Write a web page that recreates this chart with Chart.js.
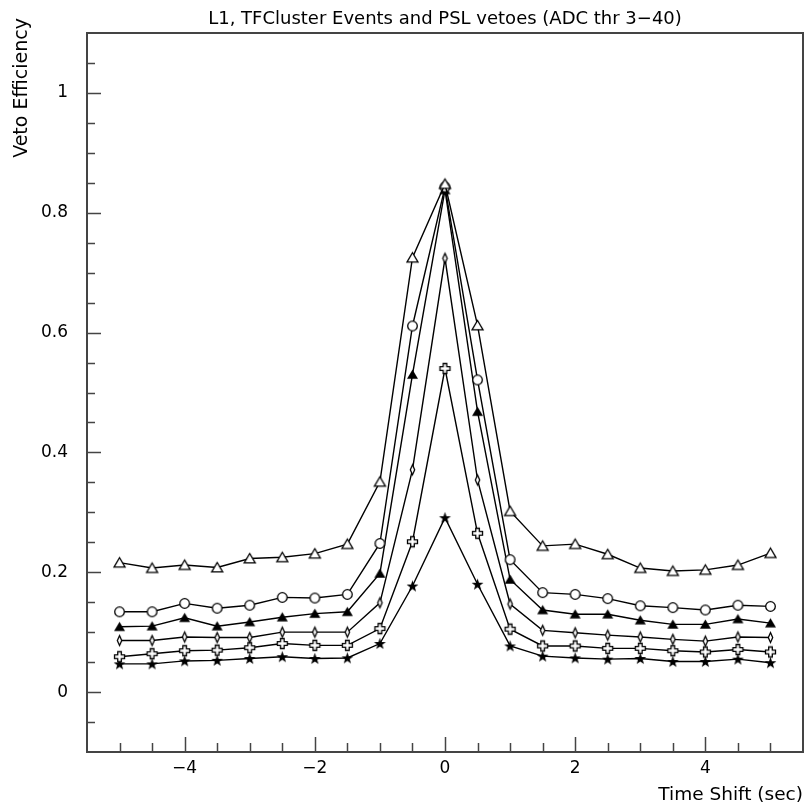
<!DOCTYPE html>
<html>
<head>
<meta charset="utf-8">
<script src="https://cdn.jsdelivr.net/npm/chart.js@4.4.1/dist/chart.umd.min.js"></script>
<style>
  html, body { margin: 0; padding: 0; background: #fff; }
  #wrap { width: 805px; height: 806px; }
</style>
</head>
<body>
<div id="wrap"><canvas id="veto-eff" width="805" height="806"></canvas></div>
<script>
// time shifts (sec)
const timeShift = [-5, -4.5, -4, -3.5, -3, -2.5, -2, -1.5, -1, -0.5, 0, 0.5, 1, 1.5, 2, 2.5, 3, 3.5, 4, 4.5, 5];

// veto efficiency per curve (top to bottom)
const effOpenTriangle = [0.216, 0.207, 0.212, 0.208, 0.223, 0.225, 0.231, 0.247, 0.351, 0.725, 0.848, 0.612, 0.302, 0.244, 0.247, 0.230, 0.207, 0.202, 0.204, 0.212, 0.232];
const effOpenCircle = [0.134, 0.134, 0.148, 0.140, 0.145, 0.158, 0.157, 0.163, 0.248, 0.611, 0.843, 0.521, 0.221, 0.166, 0.163, 0.156, 0.144, 0.141, 0.137, 0.145, 0.143];
const effFilledTriangle = [0.109, 0.110, 0.124, 0.110, 0.117, 0.125, 0.131, 0.134, 0.198, 0.530, 0.838, 0.468, 0.188, 0.137, 0.130, 0.130, 0.120, 0.113, 0.113, 0.122, 0.115];
const effDiamond = [0.086, 0.086, 0.092, 0.091, 0.091, 0.100, 0.100, 0.100, 0.149, 0.371, 0.724, 0.354, 0.147, 0.103, 0.099, 0.095, 0.092, 0.088, 0.085, 0.092, 0.091];
const effCross = [0.059, 0.064, 0.069, 0.070, 0.074, 0.081, 0.078, 0.078, 0.106, 0.251, 0.540, 0.265, 0.105, 0.077, 0.077, 0.073, 0.073, 0.069, 0.067, 0.071, 0.067];
const effStar = [0.047, 0.047, 0.052, 0.053, 0.056, 0.059, 0.056, 0.057, 0.081, 0.177, 0.291, 0.180, 0.077, 0.060, 0.057, 0.055, 0.056, 0.051, 0.051, 0.055, 0.049];

// tick labels and inward tick marks
const xLabelTicks = [-4, -2, 0, 2, 4];
const yLabelTicks = [0, 0.2, 0.4, 0.6, 0.8, 1];
const xTickMarks = [-5, -4.5, -4, -3.5, -3, -2.5, -2, -1.5, -1, -0.5, 0, 0.5, 1, 1.5, 2, 2.5, 3, 3.5, 4, 4.5, 5];
const yTickMarks = [-0.05, 0, 0.05, 0.1, 0.15, 0.2, 0.25, 0.3, 0.35, 0.4, 0.45, 0.5, 0.55, 0.6, 0.65, 0.7, 0.75, 0.8, 0.85, 0.9, 0.95, 1, 1.05];

const titleText = "L1, TFCluster Events and PSL vetoes (ADC thr 3\u221240)";
const xTitle = "Time Shift (sec)";
const yTitle = "Veto Efficiency";

const FONT = "'DejaVu Sans', 'Liberation Sans', sans-serif";

// little marker images
function makeMarker(kind) {
	let s = 15;
	let c = document.createElement("canvas");
	c.width = s;
	c.height = s;
	let g = c.getContext("2d");
	g.translate(s / 2, s / 2);
	g.lineWidth = 1.3;
	g.strokeStyle = "#000";
	g.fillStyle = "#000";
	g.beginPath();
	if (kind === "openTri" || kind === "filledTri") {
		g.moveTo(0, -5);
		g.lineTo(5.5, 4.3);
		g.lineTo(-5.5, 4.3);
		g.closePath();
	} else if (kind === "circle") {
		g.arc(0, 0, 4.8, 0, Math.PI * 2);
	} else if (kind === "diamond") {
		g.moveTo(0, -5);
		g.lineTo(2.2, 0);
		g.lineTo(0, 5);
		g.lineTo(-2.2, 0);
		g.closePath();
	} else if (kind === "cross") {
		let a = 1.8, b = 5;
		g.moveTo(-a, -b); g.lineTo(a, -b); g.lineTo(a, -a); g.lineTo(b, -a);
		g.lineTo(b, a); g.lineTo(a, a); g.lineTo(a, b); g.lineTo(-a, b);
		g.lineTo(-a, a); g.lineTo(-b, a); g.lineTo(-b, -a); g.lineTo(-a, -a);
		g.closePath();
	} else if (kind === "star") {
		for (let i = 0; i < 10; i++) {
			let r = i % 2 === 0 ? 6.2 : 2.5;
			let ang = -Math.PI / 2 + (i * Math.PI) / 5;
			let px = r * Math.cos(ang), py = r * Math.sin(ang) + 0.5;
			if (i === 0) g.moveTo(px, py);
			else g.lineTo(px, py);
		}
		g.closePath();
	}
	if (kind === "filledTri" || kind === "star") {
		g.fill();
	} else {
		g.fillStyle = "#fff";
		g.fill();
		g.stroke();
	}
	return c;
}

function series(values, marker) {
	return {
		data: timeShift.map((t, i) => ({ x: t, y: values[i] })),
		borderColor: "#000",
		borderWidth: 1.4,
		tension: 0,
		fill: false,
		pointStyle: makeMarker(marker),
		pointRadius: 5,
	};
}

// frame, inward ticks and y title
const framePlugin = {
	id: "frame",
	afterDatasetsDraw(chart) {
		let ctx = chart.ctx;
		let { left, right, top, bottom } = chart.chartArea;
		let xs = chart.scales.x, ys = chart.scales.y;
		ctx.save();
		ctx.strokeStyle = "#444";
		ctx.lineWidth = 1.5;
		ctx.beginPath();
		for (let v of xTickMarks) {
			let px = Math.round(xs.getPixelForValue(v)) + 0.5;
			let len = xLabelTicks.includes(v) ? 15 : 9;
			ctx.moveTo(px, bottom);
			ctx.lineTo(px, bottom - len);
		}
		for (let v of yTickMarks) {
			let py = Math.round(ys.getPixelForValue(v)) + 0.5;
			let len = yLabelTicks.includes(v) ? 14 : 8;
			ctx.moveTo(left, py);
			ctx.lineTo(left + len, py);
		}
		ctx.stroke();
		ctx.lineWidth = 2;
		ctx.strokeRect(left, top, right - left, bottom - top);

		ctx.fillStyle = "#000";
		ctx.font = "19px " + FONT;
		ctx.translate(22, 18);
		ctx.rotate(-Math.PI / 2);
		ctx.textAlign = "right";
		ctx.textBaseline = "middle";
		ctx.fillText(yTitle, 0, 0);
		ctx.restore();
	},
};

const tickFont = { family: FONT, size: 17 };

new Chart(document.getElementById("veto-eff").getContext("2d"), {
	type: "line",
	data: {
		datasets: [
			series(effOpenTriangle, "openTri"),
			series(effOpenCircle, "circle"),
			series(effFilledTriangle, "filledTri"),
			series(effDiamond, "diamond"),
			series(effCross, "cross"),
			series(effStar, "star"),
		],
	},
	options: {
		responsive: false,
		animation: false,
		devicePixelRatio: 1,
		layout: { autoPadding: false, padding: { left: 0, right: 2, top: 0, bottom: 0 } },
		plugins: {
			legend: { display: false },
			tooltip: { enabled: false },
			title: {
				display: true,
				text: titleText,
				fullSize: false,
				color: "#000",
				font: { family: FONT, size: 18, weight: "normal" },
				padding: { top: 9, bottom: 2.4 },
			},
		},
		scales: {
			x: {
				type: "linear",
				min: -5.5,
				max: 5.5,
				grid: { display: false, drawTicks: false },
				border: { display: false },
				afterBuildTicks: (s) => {
					s.ticks = xLabelTicks.map((v) => ({ value: v }));
				},
				ticks: {
					padding: 6,
					color: "#000",
					font: tickFont,
					maxRotation: 0,
					callback: (v) => (v < 0 ? "\u2212" + Math.abs(v) : String(v)),
				},
				title: {
					display: true,
					text: xTitle,
					align: "end",
					color: "#000",
					font: { family: FONT, size: 18.5 },
					padding: { top: 3, bottom: 0 },
				},
				afterFit: (s) => {
					s.height = 54;
					s.paddingLeft = 0;
					s.paddingRight = 0;
				},
			},
			y: {
				type: "linear",
				min: -0.1,
				max: 1.1,
				grid: { display: false, drawTicks: false },
				border: { display: false },
				afterBuildTicks: (s) => {
					s.ticks = yLabelTicks.map((v) => ({ value: v }));
				},
				ticks: {
					padding: 19,
					color: "#000",
					font: tickFont,
					callback: (v) => String(Math.round(v * 10) / 10),
				},
				afterFit: (s) => {
					s.width = 87;
					s.paddingTop = 0;
					s.paddingBottom = 0;
				},
			},
		},
	},
	plugins: [framePlugin],
});
</script>
</body>
</html>
